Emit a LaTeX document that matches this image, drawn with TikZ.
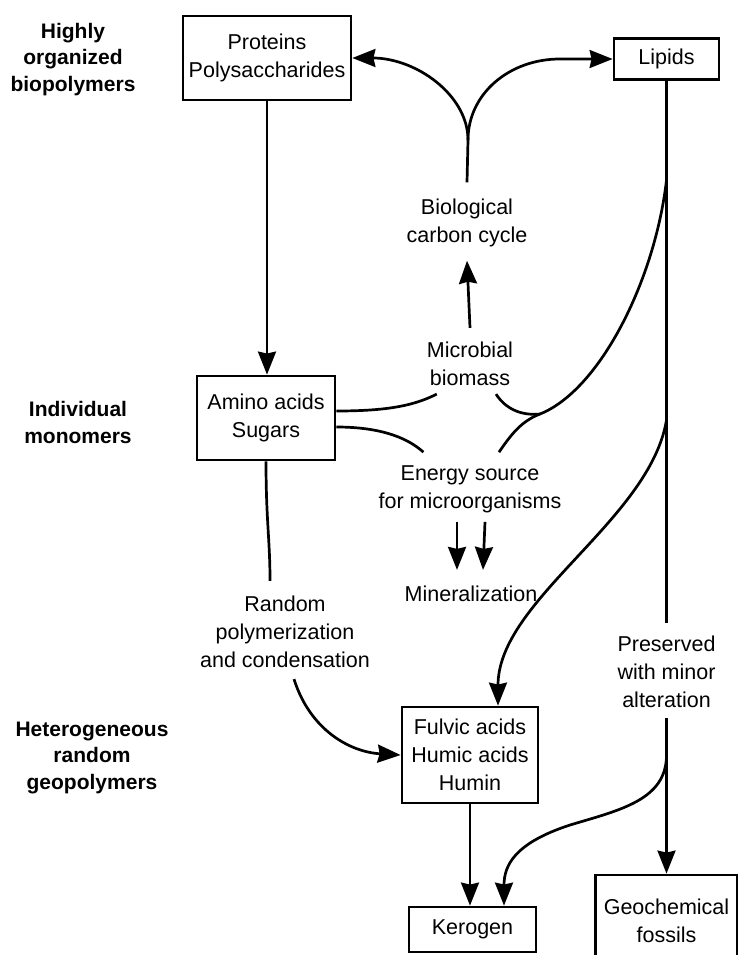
\documentclass[tikz,border=0pt]{standalone}
\usepackage{fontspec}
\setmainfont{Liberation Sans}
\usetikzlibrary{arrows.meta}
\begin{document}
\begin{tikzpicture}[x=1pt,y=-1pt,
  txt/.style={inner sep=0pt,align=center,font=\fontsize{21.5}{28}\selectfont},
  lvl/.style={inner sep=0pt,align=center,font=\bfseries\fontsize{21}{26.5}\selectfont},
  box/.style={draw,line width=2.8pt,inner sep=0pt,align=center,font=\fontsize{21.5}{28}\selectfont},
  conn/.style={line width=2.7pt},
  arr/.style={conn,-{Stealth[length=23pt,width=18pt,inset=2pt]}}]
\useasboundingbox (0,0) rectangle (737,955);
% level labels
\node[lvl] (hop) at (73,59.5) {Highly\\organized\\biopolymers};
\node[lvl] (im) at (78,422.5) {Individual\\monomers};
\node[lvl] (het) at (92,757.5) {Heterogeneous\\random\\geopolymers};
% boxes
\node[box,minimum width=168pt,minimum height=84pt] (prot) at (267,58) {Proteins\\Polysaccharides};
\node[box,minimum width=105pt,minimum height=41pt] (lip) at (666.5,59) {Lipids};
\node[box,minimum width=138pt,minimum height=84pt] (amino) at (266,418) {Amino acids\\Sugars};
\node[box,minimum width=136pt,minimum height=96pt] (fulvic) at (470,755) {Fulvic acids\\Humic acids\\Humin};
\node[box,minimum width=127pt,minimum height=45pt] (ker) at (472.5,929.5) {Kerogen};
\node[box,minimum width=142pt,minimum height=92pt] (geo) at (666.5,921) {Geochemical\\fossils};
% text labels
\node[txt] (bcc) at (467,222.5) {Biological\\carbon cycle};
\node[txt] (mb) at (470,364) {Microbial\\biomass};
\node[txt] (es) at (470,489) {Energy source\\for microorganisms};
\node[txt] (min) at (471,594) {Mineralization};
\node[txt] (rnd) at (285,632) {Random\\polymerization\\and condensation};
\node[txt] (pres) at (666.5,672) {Preserved\\with minor\\alteration};
% coordinates
\coordinate (split) at (468,140);
\coordinate (lb0) at (666.5,180);
\coordinate (jn) at (540,414);
\coordinate (lb1) at (666.5,420);
\coordinate (ls) at (666.5,755);
% connectors
\draw[conn] ([yshift=16pt]bcc.north) -- (split);
\draw[arr] (split) .. controls (468,95) and (416,58) .. (prot.east);
\draw[arr] (split) .. controls (468,94) and (509,59) .. (560,59) -- (lip.west);
\draw[arr] ([yshift=14pt]mb.north) -- ([yshift=-14pt]bcc.south);
\draw[arr] (prot.south) -- (prot.south |- amino.north);
\draw[conn] ([yshift=7pt]amino.east) .. controls (390,411) and (415,405) .. ([xshift=10pt,yshift=-8pt]mb.south west);
\draw[conn] ([yshift=-9pt]amino.east) .. controls (385,427) and (410,440) .. ([xshift=45pt,yshift=13pt]es.north west);
\draw[conn] ([xshift=29pt,yshift=13pt]es.north) .. controls (512,433) and (522,421) .. (jn) .. controls (600,390) and (655,280) .. (lb0);
\draw[conn] ([xshift=26pt,yshift=-8pt]mb.south) .. controls (505,408) and (520,416) .. (jn);
\draw[arr] ([xshift=-13pt,yshift=-9pt]es.south) -- ([xshift=-14pt,yshift=16pt]min.north);
\draw[arr] ([xshift=15pt,yshift=-9pt]es.south) -- ([xshift=12pt,yshift=16pt]min.north);
\draw[conn] (amino.south) .. controls (266,520) and (270,540) .. ([xshift=-15pt,yshift=15pt]rnd.north);
\draw[arr] ([xshift=9pt,yshift=-11pt]rnd.south) .. controls (310,730) and (350,752) .. (fulvic.west);
\draw[arr] (lb1) .. controls (650,520) and (498,600) .. ([xshift=28pt]fulvic.north);
\draw[conn] (lip.south) -- ([yshift=13pt]pres.north);
\draw[arr] ([yshift=-10pt]pres.south) -- (geo.north);
\draw[arr] (fulvic.south) -- (fulvic.south |- ker.north);
\draw[arr] (ls) .. controls (666.5,800) and (620,810) .. (570,825) .. controls (515,843) and (504,865) .. ([xshift=31.5pt]ker.north);
\end{tikzpicture}
\end{document}
